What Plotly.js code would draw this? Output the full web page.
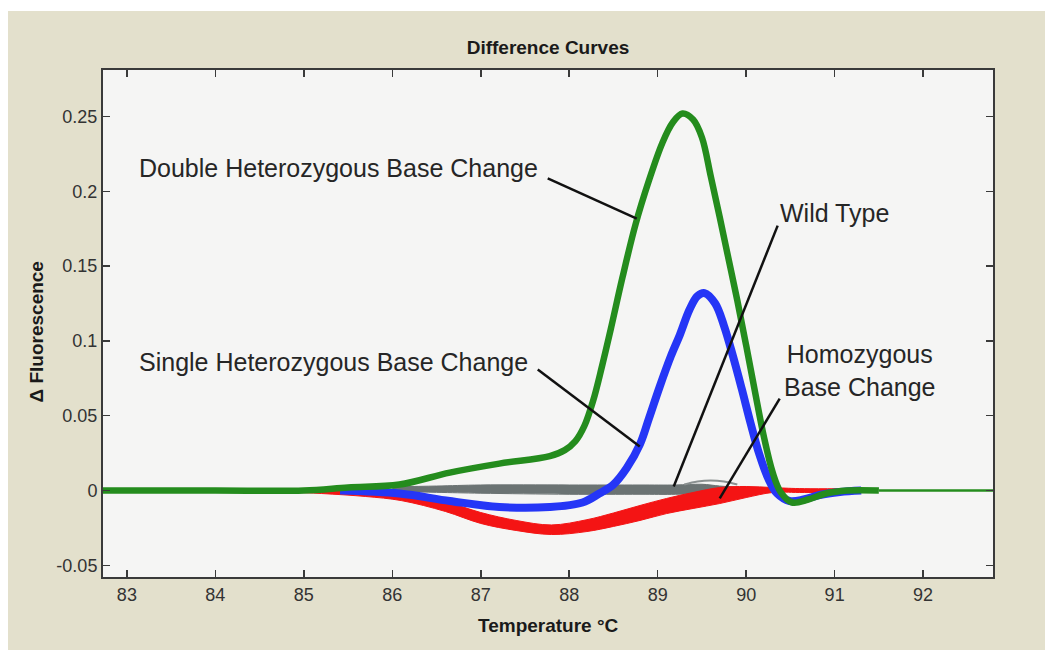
<!DOCTYPE html>
<html>
<head>
<meta charset="utf-8">
<script src="https://cdn.plot.ly/plotly-3.0.1.min.js"></script>
<style>
  html, body { margin: 0; padding: 0; background: #ffffff; width: 1045px; height: 650px; overflow: hidden; }
  #chart { position: absolute; left: 8px; top: 11px; width: 1037px; height: 639px; }
</style>
</head>
<body>
<div id="chart"></div>
<script>
// ---- Data ----
// Double heterozygous base change (green)
const doubleT = [82.73, 84.0, 85.0, 85.5, 86.08, 86.65, 87.21, 87.78, 87.95, 88.07, 88.17, 88.27, 88.37, 88.47, 88.6, 88.75, 88.9, 89.05, 89.17, 89.28, 89.4, 89.5, 89.6, 89.7, 89.8, 89.9, 90.0, 90.1, 90.2, 90.3, 90.39, 90.52, 90.7, 90.9, 91.14, 91.5];
const doubleV = [0, 0, 0, 0.002, 0.004, 0.012, 0.018, 0.023, 0.027, 0.033, 0.043, 0.060, 0.083, 0.108, 0.142, 0.178, 0.207, 0.232, 0.246, 0.252, 0.248, 0.236, 0.210, 0.183, 0.155, 0.127, 0.097, 0.066, 0.036, 0.012, -0.001, -0.008, -0.006, -0.002, 0, 0];
const doubleTailT = [91.5, 92.79];
const doubleTailV = [0, 0];

// Single heterozygous base change (blue)
const singleT = [85.41, 86.08, 86.65, 87.21, 87.78, 88.15, 88.34, 88.5, 88.65, 88.8, 88.9, 89.02, 89.15, 89.25, 89.36, 89.45, 89.53, 89.65, 89.75, 89.85, 89.95, 90.05, 90.15, 90.25, 90.35, 90.49, 90.65, 90.83, 91.06, 91.3];
const singleV = [0, -0.002, -0.007, -0.011, -0.011, -0.008, -0.002, 0.004, 0.015, 0.031, 0.048, 0.069, 0.090, 0.104, 0.121, 0.130, 0.132, 0.125, 0.110, 0.090, 0.068, 0.045, 0.024, 0.008, -0.002, -0.007, -0.006, -0.003, -0.001, 0];

// Homozygous base change (red) - band of replicate curves (upper / lower edge)
const homoT = [84.7, 85.2, 85.7, 86.1, 86.6, 87.0, 87.4, 87.8, 88.2, 88.5, 88.8, 89.1, 89.4, 89.7, 90.0, 90.3, 90.6, 91.45];
const homoUpper = [0.0007, 0.0007, 0, -0.002, -0.0074, -0.0147, -0.020, -0.023, -0.0195, -0.0150, -0.0100, -0.0053, -0.0013, 0.002, 0.0027, 0.002, 0.0013, 0.0013];
const homoLower = [-0.0007, -0.002, -0.004, -0.0067, -0.014, -0.022, -0.0267, -0.0294, -0.0274, -0.024, -0.020, -0.0154, -0.012, -0.0087, -0.0047, -0.0013, -0.0013, -0.0013];

// Wild type (gray) - band of replicate curves plus a slightly raised replicate
const wildT = [86.0, 86.5, 87.0, 88.0, 88.8, 89.2, 89.5, 89.7, 89.9, 90.0];
const wildUpper = [0.0025, 0.003, 0.0037, 0.0037, 0.0037, 0.0037, 0.0042, 0.003, 0.0022, 0.0013];
const wildLower = [-0.0005, -0.0012, -0.0018, -0.0025, -0.0025, -0.0025, -0.0016, -0.0003, 0.0005, 0.0007];
const wildHumpT = [89.3, 89.45, 89.6, 89.75, 89.9];
const wildHumpV = [0.004, 0.006, 0.0067, 0.006, 0.004];

// Axis ticks
const xTickVals = [83, 84, 85, 86, 87, 88, 89, 90, 91, 92];
const xTickText = ['83', '84', '85', '86', '87', '88', '89', '90', '91', '92'];
const yTickVals = [-0.05, 0, 0.05, 0.1, 0.15, 0.2, 0.25];
const yTickText = ['-0.05', '0', '0.05', '0.1', '0.15', '0.2', '0.25'];

// Labels and their leader lines (label anchor, then line from -> to)
const labels = [
  {text: 'Double Heterozygous Base Change', x: 83.11, y: 0.2159, xanchor: 'left'},
  {text: 'Single Heterozygous Base Change', x: 83.11, y: 0.0862, xanchor: 'left'},
  {text: 'Wild Type', x: 90.36, y: 0.1852, xanchor: 'left'},
  {text: 'Homozygous<br>Base Change', x: 91.29, y: 0.0802, xanchor: 'center'}
];
const leaders = [
  [87.757, 0.2086, 88.763, 0.1818],
  [87.644, 0.0809, 88.797, 0.0294],
  [90.356, 0.1771, 89.181, 0.0027],
  [90.379, 0.0615, 89.701, -0.0053]
];

// ---- Styles ----
const GREEN = '#248c1d';
const BLUE = '#2536f6';
const RED = '#f41414';
const GRAY = '#6b7373';

const traces = [
  {x: wildT, y: wildLower, mode: 'lines', line: {color: GRAY, width: 1, shape: 'spline'}, hoverinfo: 'skip', showlegend: false},
  {x: wildT, y: wildUpper, mode: 'lines', fill: 'tonexty', fillcolor: GRAY, line: {color: GRAY, width: 1, shape: 'spline'}, name: 'Wild Type', showlegend: false},
  {x: wildHumpT, y: wildHumpV, mode: 'lines', line: {color: '#8a9090', width: 2, shape: 'spline'}, hoverinfo: 'skip', showlegend: false},
  {x: homoT, y: homoLower, mode: 'lines', line: {color: RED, width: 1, shape: 'spline'}, hoverinfo: 'skip', showlegend: false},
  {x: homoT, y: homoUpper, mode: 'lines', fill: 'tonexty', fillcolor: RED, line: {color: RED, width: 1, shape: 'spline'}, name: 'Homozygous Base Change', showlegend: false},
  {x: singleT, y: singleV, mode: 'lines', line: {color: BLUE, width: 8, shape: 'spline', smoothing: 1}, name: 'Single Heterozygous Base Change', showlegend: false},
  {x: doubleT, y: doubleV, mode: 'lines', line: {color: GREEN, width: 6.5, shape: 'spline', smoothing: 1}, name: 'Double Heterozygous Base Change', showlegend: false},
  {x: doubleTailT, y: doubleTailV, mode: 'lines', line: {color: GREEN, width: 2.5}, hoverinfo: 'skip', showlegend: false}
];

const annotations = labels.map(l => ({
  text: l.text, x: l.x, y: l.y, xref: 'x', yref: 'y', xanchor: l.xanchor, yanchor: 'middle',
  showarrow: false, align: 'center',
  font: {family: 'Liberation Sans, Arial, sans-serif', size: 25, color: '#262626'}
}));
annotations.push({
  text: 'Temperature °C', xref: 'paper', yref: 'paper', x: 0.5, y: 0, yshift: -48,
  xanchor: 'center', yanchor: 'middle', showarrow: false,
  font: {family: 'Liberation Sans, Arial, sans-serif', size: 19, color: '#1a1a1a', weight: 'bold'}
});
annotations.push({
  text: 'Δ Fluorescence', xref: 'paper', yref: 'paper', x: 0, xshift: -67, y: 0.5, yshift: -9,
  xanchor: 'center', yanchor: 'middle', textangle: -90, showarrow: false,
  font: {family: 'Liberation Sans, Arial, sans-serif', size: 19, color: '#1a1a1a', weight: 'bold'}
});

const shapes = leaders.map(s => ({
  type: 'line', xref: 'x', yref: 'y', x0: s[0], y0: s[1], x1: s[2], y1: s[3],
  line: {color: '#111111', width: 2.5}, layer: 'above'
}));

const axisCommon = {
  showgrid: false, zeroline: false, showline: true, linecolor: '#3a3a3a', linewidth: 2,
  mirror: 'ticks', ticks: 'inside', ticklen: 7, tickwidth: 1.5, tickcolor: '#3a3a3a',
  tickfont: {family: 'Liberation Sans, Arial, sans-serif', size: 18, color: '#333333'},
  fixedrange: true
};

const layout = {
  width: 1037, height: 639,
  margin: {l: 95, r: 52, t: 59, b: 73},
  paper_bgcolor: '#e3e0cc',
  plot_bgcolor: '#f5f5f4',
  showlegend: false,
  title: {
    text: 'Difference Curves', x: 0.5, xref: 'paper', xanchor: 'center',
    y: 1 - 36 / 639, yref: 'container', yanchor: 'middle',
    font: {family: 'Liberation Sans, Arial, sans-serif', size: 19, color: '#1a1a1a', weight: 'bold'}
  },
  xaxis: Object.assign({}, axisCommon, {
    range: [82.73, 92.79], tickmode: 'array', tickvals: xTickVals, ticktext: xTickText
  }),
  yaxis: Object.assign({}, axisCommon, {
    range: [-0.0578, 0.2811], tickmode: 'array', tickvals: yTickVals, ticktext: yTickText
  }),
  annotations: annotations,
  shapes: shapes
};

Plotly.newPlot('chart', traces, layout, {displayModeBar: false, staticPlot: true});
</script>
</body>
</html>
